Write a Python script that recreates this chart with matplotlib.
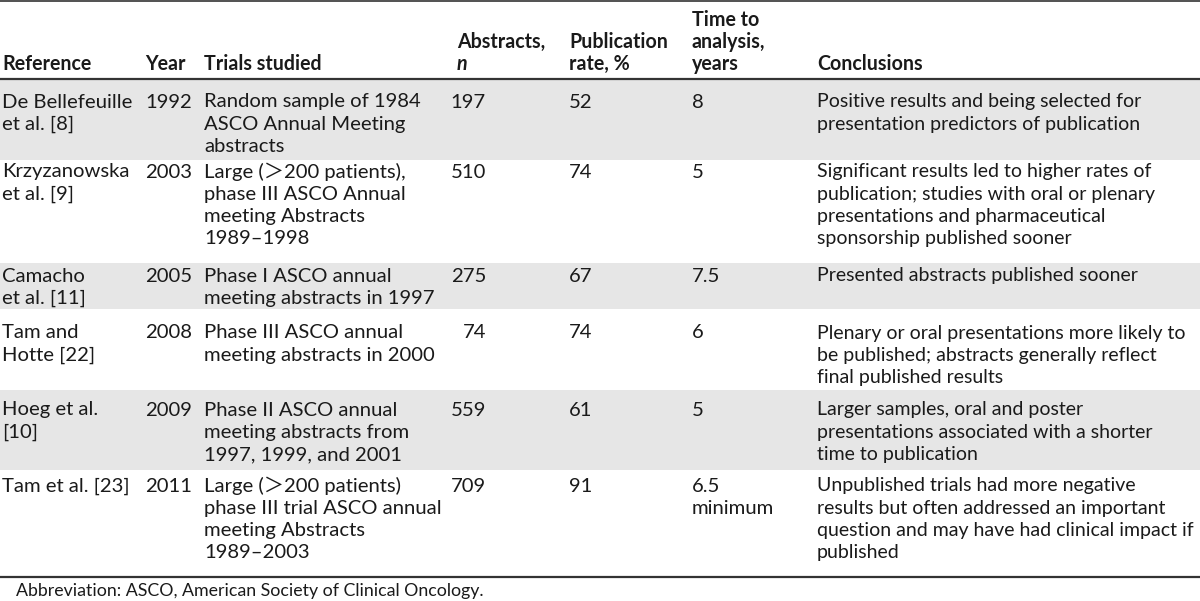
import matplotlib
matplotlib.use("Agg")
import matplotlib.pyplot as plt

# ---- data ----
headers = ["Reference", "Year", "Trials studied", "Abstracts,\nn", "Publication\nrate, %",
           "Time to\nanalysis,\nyears", "Conclusions"]
references = ["De Bellefeuille\net al. [8]", "Krzyzanowska\net al. [9]", "Camacho\net al. [11]",
              "Tam and\nHotte [22]", "Hoeg et al.\n[10]", "Tam et al. [23]"]
years = ["1992", "2003", "2005", "2008", "2009", "2011"]
trials = ["Random sample of 1984\nASCO Annual Meeting\nabstracts",
          "Large (\uff1e200 patients),\nphase III ASCO Annual\nmeeting Abstracts\n1989\u20131998",
          "Phase I ASCO annual\nmeeting abstracts in 1997",
          "Phase III ASCO annual\nmeeting abstracts in 2000",
          "Phase II ASCO annual\nmeeting abstracts from\n1997, 1999, and 2001",
          "Large (\uff1e200 patients)\nphase III trial ASCO annual\nmeeting Abstracts\n1989\u20132003"]
abstracts_n = [197, 510, 275, 74, 559, 709]
pub_rate = [52, 74, 67, 74, 61, 91]
time_years = ["8", "5", "7.5", "6", "5", "6.5\nminimum"]
conclusions = ["Positive results and being selected for\npresentation predictors of publication",
               "Significant results led to higher rates of\npublication; studies with oral or plenary\npresentations and pharmaceutical\nsponsorship published sooner",
               "Presented abstracts published sooner",
               "Plenary or oral presentations more likely to\nbe published; abstracts generally reflect\nfinal published results",
               "Larger samples, oral and poster\npresentations associated with a shorter\ntime to publication",
               "Unpublished trials had more negative\nresults but often addressed an important\nquestion and may have had clinical impact if\npublished"]
footnote = "Abbreviation: ASCO, American Society of Clinical Oncology."

# ---- layout (pixel coordinates) ----
W, H = 1200, 601
col_x = [2, 145, 204, 457, 569, 692, 817]
row_bounds = [79, 160, 263, 309, 390, 470, 577]
first_line = [102, 172, 276, 333, 410, 486]
lh = 22.2
FS = 14.6
FS_C = 14.0
FS_H = 14.1
FAM = ["Lato", "Noto Sans CJK JP", "DejaVu Sans"]
TXT = "#1a1a1a"

fig = plt.figure(figsize=(W / 100, H / 100), dpi=100)
ax = fig.add_axes([0, 0, 1, 1])
ax.set_xlim(0, W)
ax.set_ylim(H, 0)
ax.axis("off")

# shaded rows
for i in range(len(references)):
    if i % 2 == 0:
        ax.axhspan(row_bounds[i], row_bounds[i + 1], color="#e6e6e6", lw=0, zorder=0)

# rules
ax.axhline(1, color="#333333", lw=1.2)
ax.axhline(row_bounds[0], color="#333333", lw=1.6)
ax.axhline(row_bounds[-1], color="#333333", lw=1.6)

def put(x, y, s, ha="left", fs=FS):
    for k, line in enumerate(s.split("\n")):
        ax.text(x, y + k * lh, line, ha=ha, va="center", fontsize=fs,
                family=FAM, color=TXT)

# header (bottom-aligned)
hdr_bottom = 64
for x, h in zip(col_x, headers):
    lines = h.split("\n")
    top = hdr_bottom - (len(lines) - 1) * lh
    for k, line in enumerate(lines):
        style = "italic" if line == "n" else "normal"
        ax.text(x, top + k * lh, line, ha="left", va="center", fontsize=FS_H,
                family=FAM, color=TXT, fontweight="bold", fontstyle=style)

for i in range(len(references)):
    y0 = first_line[i]
    put(col_x[0], y0, references[i])
    put(col_x[1], y0, years[i])
    put(col_x[2], y0, trials[i])
    put(486, y0, str(abstracts_n[i]), ha="right")
    put(col_x[4], y0, str(pub_rate[i]))
    put(col_x[5], y0, time_years[i])
    put(col_x[6], y0, conclusions[i], fs=FS_C)

ax.text(16, 591, footnote, ha="left", va="center", fontsize=12.8, family=FAM, color=TXT)

fig.savefig("out.png", dpi=100)
